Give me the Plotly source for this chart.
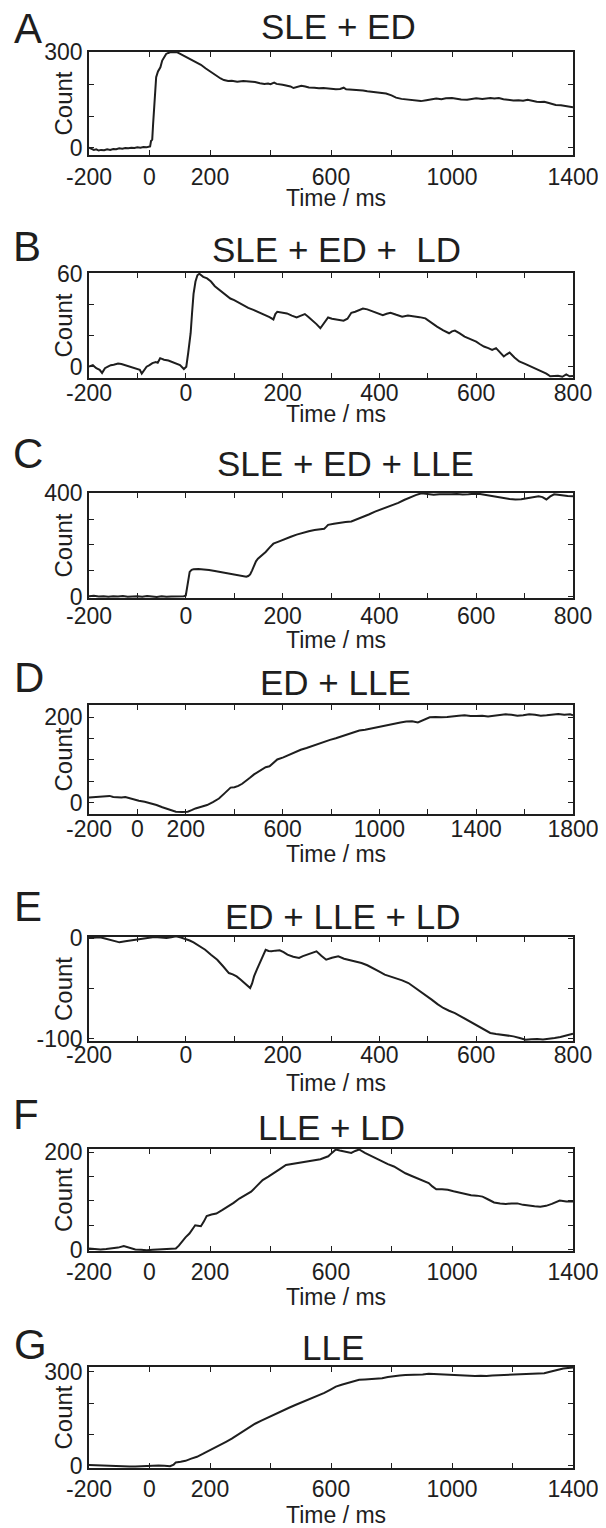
import plotly.graph_objects as go

# ---------------- data (time in ms, count) ----------------
SLE_ED = [(-200, 1), (-192, -2), (-184, -6), (-176, -4), (-168, -8), (-160, -6), (-150, -7), (-140, -4), (-130, -6),
          (-120, -3), (-110, -4), (-100, -1), (-90, -2), (-80, 0), (-70, -1), (-60, 1), (-50, 0), (-40, 2), (-30, 1),
          (-20, 3), (-10, 2), (-3, 4), (2, 5), (5, 22), (9, 26), (12, 76), (17, 149), (22, 222), (28, 240), (36, 253),
          (42, 274), (50, 286), (55, 295), (62, 298), (68, 300), (80, 301), (92, 300), (100, 296), (110, 291),
          (119, 285), (130, 280), (145, 274), (160, 266), (170, 261), (185, 250), (200, 240), (210, 232), (221, 225),
          (235, 218), (246, 213), (260, 210), (272, 211), (290, 208), (310, 210), (330, 209), (349, 207), (365, 203),
          (380, 201), (392, 202), (400, 200), (412, 205), (420, 201), (440, 198), (455, 196), (466, 193), (476, 188),
          (490, 192), (502, 195), (515, 193), (527, 190), (545, 189), (560, 187), (575, 188), (591, 186), (605, 185),
          (616, 184), (630, 185), (642, 189), (650, 184), (670, 183), (685, 181), (706, 180), (720, 178), (740, 176),
          (760, 173), (782, 171), (800, 165), (815, 158), (833, 154), (850, 152), (865, 150), (880, 148), (897, 147),
          (915, 150), (930, 153), (948, 155), (965, 153), (980, 156), (1000, 157), (1015, 154), (1030, 152),
          (1050, 151), (1065, 154), (1080, 156), (1100, 154), (1115, 156), (1127, 157), (1140, 155), (1155, 157),
          (1170, 153), (1185, 151), (1203, 149), (1220, 150), (1235, 148), (1250, 151), (1265, 147), (1280, 145),
          (1292, 144), (1305, 145), (1320, 141), (1343, 135), (1360, 134), (1375, 131), (1390, 129), (1400, 128)]

SLE_ED_LD = [(-200, 0), (-192, 1), (-185, -1), (-178, -2), (-173, -4), (-167, -1), (-161, 0), (-155, 1), (-149, 1.3),
             (-140, 2), (-133, 1.7), (-125, 1), (-117, 0), (-109, -0.5), (-101, -1), (-95, -2), (-91, -4.5), (-86, -2),
             (-81, 0), (-75, 1), (-69, 2.3), (-62, 3), (-58, 2.5), (-53, 5.5), (-45, 4.5), (-36, 4), (-28, 3),
             (-20, 2.3), (-12, 1), (-4, -1.5), (1, 0), (5, 9), (10, 21.6), (13, 35), (16, 47), (20, 55), (24, 59),
             (28, 60), (36, 58), (44, 57), (52, 55), (60, 52), (68, 50), (76, 48), (84, 46), (92, 44), (100, 43),
             (108, 41.5), (117, 40), (129, 38), (141, 36.5), (153, 35), (165, 33), (173, 32), (181, 30.5), (185, 34),
             (189, 35.5), (199, 35), (209, 34.4), (219, 33), (229, 31.8), (238, 33), (246, 34), (254, 32), (262, 30),
             (270, 27.5), (278, 24.8), (286, 28), (294, 31.8), (302, 31), (310, 30.5), (318, 30), (326, 29.7),
             (334, 31), (342, 34.8), (350, 35.5), (358, 36.5), (366, 37.5), (375, 37), (383, 36), (391, 34.8),
             (399, 34), (407, 33.3), (415, 34.2), (423, 34.8), (435, 33.5), (447, 32.3), (459, 33), (471, 32.7),
             (483, 32), (495, 31.2), (507, 28.5), (519, 25.9), (532, 23.5), (544, 21.6), (550, 22.8), (556, 23.3),
             (566, 21.5), (576, 19.4), (588, 17.8), (600, 16.2), (608, 14.5), (616, 13), (625, 12), (633, 10.9),
             (641, 12), (649, 9), (657, 6.6), (663, 8), (669, 9.2), (679, 6), (689, 3.4), (701, 1.8), (713, 0.2),
             (725, -1.5), (737, -3), (745, -4.5), (753, -6.2), (761, -6), (769, -5.8), (778, -6.5), (786, -5),
             (793, -6.2), (800, -6)]

SLE_ED_LLE = [(-200, 2), (-190, 4), (-180, 1), (-170, 2), (-160, 0), (-150, 2), (-140, 1), (-130, 3), (-120, 0),
              (-110, 1), (-100, 2), (-90, 0), (-80, 3), (-70, 1), (-60, -1), (-50, 2), (-40, 0), (-30, 1), (-20, 2),
              (-10, 1), (-4, 2), (0, 5), (4, 45), (8, 96), (12, 104), (16, 106), (26, 107), (36, 106), (48, 103),
              (60, 99), (72, 95), (85, 90), (97, 86), (109, 81), (118, 78), (125, 77), (129, 80), (133, 86), (137, 102),
              (141, 122), (145, 137), (149, 147), (157, 160), (165, 173), (173, 190), (181, 205), (193, 214),
              (205, 224), (217, 232), (229, 240), (241, 247), (254, 253), (266, 258), (276, 261), (286, 263),
              (290, 270), (294, 278), (306, 282), (318, 286), (330, 289), (342, 291), (354, 299), (366, 308),
              (378, 318), (391, 329), (403, 337), (415, 346), (427, 355), (439, 363), (451, 374), (463, 385),
              (475, 393), (487, 400), (500, 396), (512, 394), (524, 396), (536, 395), (548, 396), (560, 397),
              (572, 395), (584, 396), (596, 398), (608, 397), (620, 393), (633, 388), (645, 384), (657, 381),
              (669, 378), (681, 376), (693, 377), (705, 381), (717, 385), (729, 388), (737, 385), (745, 376),
              (753, 388), (761, 396), (769, 394), (778, 391), (789, 389), (800, 388)]

ED_LLE = [(-200, 11.6), (-180, 12.5), (-163, 13), (-140, 14), (-115, 15.5), (-100, 13), (-82, 11.6), (-66, 12),
          (-50, 13), (-34, 10), (-18, 7.8), (6, 4), (30, 1.6), (55, -2), (79, -6), (103, -11), (127, -15.5),
          (143, -19), (159, -21.7), (184, -22.5), (208, -21.7), (224, -18), (240, -14), (264, -10), (288, -6),
          (312, 1), (337, 9.3), (361, 22), (385, 35), (401, 36), (417, 39), (433, 44), (449, 50), (465, 58),
          (482, 66), (498, 72), (514, 79), (530, 83), (546, 85), (562, 93), (578, 101), (603, 106), (627, 112),
          (651, 118), (675, 124), (699, 128), (723, 133), (748, 138), (772, 143), (796, 147), (820, 151), (845, 156),
          (869, 161), (893, 165), (917, 169), (941, 171), (965, 174), (990, 177), (1014, 180), (1038, 183),
          (1062, 186), (1087, 188), (1111, 190), (1135, 191), (1159, 188), (1183, 193), (1208, 200), (1232, 201),
          (1256, 200), (1280, 201), (1304, 203), (1328, 204), (1352, 205), (1377, 203), (1401, 203), (1425, 204),
          (1449, 202), (1474, 204), (1498, 205), (1522, 207), (1546, 206), (1570, 204), (1594, 205), (1619, 207),
          (1643, 206), (1667, 204), (1691, 205), (1715, 207), (1739, 208), (1764, 206), (1788, 207), (1800, 205)]

ED_LLE_LD = [(-200, 0), (-188, 0.3), (-177, 0.7), (-167, -0.5), (-157, -1.7), (-147, -3), (-137, -4.3), (-125, -3.2),
             (-113, -2.3), (-101, -1.8), (-89, -1), (-77, 0), (-65, 1), (-52, 0.5), (-40, 0), (-30, 0.8), (-20, 1.7),
             (-10, 0.5), (0, -1), (8, -2.5), (16, -4.3), (28, -8), (40, -11.6), (52, -16.5), (65, -21.5), (77, -28),
             (89, -34.7), (97, -36), (105, -38), (113, -41), (121, -44.6), (127, -47), (133, -49.5), (137, -45),
             (141, -38), (147, -31), (153, -24.8), (159, -18), (165, -11.6), (171, -12.8), (177, -13.2), (185, -12.5),
             (194, -12.2), (202, -14), (210, -16.5), (222, -18.5), (234, -19.8), (242, -18), (250, -16.5), (260, -15),
             (270, -13.2), (280, -17.5), (290, -21.5), (302, -19.5), (315, -18.2), (327, -20.5), (339, -22),
             (351, -23.2), (363, -24.8), (375, -27), (387, -29.7), (399, -33), (411, -36.3), (423, -38), (435, -39.6),
             (447, -42), (460, -44.6), (472, -48.5), (484, -52.8), (496, -57), (508, -61), (520, -65.5), (532, -69.3),
             (544, -72), (556, -74.3), (568, -77.5), (581, -80.9), (593, -84), (605, -87.5), (617, -91), (629, -94),
             (641, -95), (653, -95.7), (665, -96.5), (677, -97.4), (690, -99), (702, -100.7), (714, -100.3),
             (726, -100), (738, -100.5), (750, -100), (762, -99), (774, -98), (787, -96.5), (800, -94.7)]

LLE_LD = [(-200, 2), (-181, 1), (-162, 0), (-143, 1), (-123, 2), (-104, 4), (-85, 7), (-66, 3), (-47, 0), (-28, -0.5),
          (-9, -1.4), (11, -0.5), (30, 0), (49, 1), (68, 2), (87, 2), (97, 8), (106, 16), (119, 25), (132, 33),
          (141, 42), (151, 50), (160, 49), (170, 48), (180, 58), (189, 69), (205, 72), (221, 74), (240, 81), (259, 88),
          (278, 96), (297, 105), (317, 112), (336, 119), (355, 131), (374, 143), (393, 150), (412, 157), (432, 166),
          (451, 174), (470, 176), (489, 178), (508, 179), (527, 181), (546, 183), (565, 186), (578, 189), (591, 192),
          (603, 199), (616, 206), (629, 204), (642, 202), (655, 200), (667, 199), (680, 203), (693, 206), (712, 199),
          (731, 193), (750, 187), (769, 181), (788, 176), (808, 171), (827, 164), (846, 157), (865, 152), (884, 147),
          (903, 142), (923, 137), (935, 130), (948, 124), (967, 124), (986, 123), (1005, 120), (1024, 117),
          (1044, 114), (1063, 112), (1082, 111), (1101, 109), (1120, 103), (1139, 97), (1159, 95), (1178, 94),
          (1197, 95), (1216, 95), (1235, 92), (1254, 90), (1273, 89), (1292, 88), (1311, 90), (1330, 94), (1343, 98),
          (1356, 101), (1378, 99), (1400, 99)]

LLE = [(-200, 2), (-181, 1), (-162, 0), (-143, 0), (-123, -1), (-104, -2), (-85, -4), (-66, -3), (-47, -3), (-28, -2),
       (-9, -2), (11, -1), (30, 0), (49, -1), (68, -2), (80, 3), (87, 10), (103, 12), (119, 15), (138, 22), (157, 28),
       (176, 37), (195, 46), (214, 55), (234, 65), (253, 76), (272, 86), (291, 98), (310, 110), (330, 122), (349, 134),
       (368, 143), (387, 152), (406, 161), (425, 170), (444, 178), (463, 186), (482, 194), (502, 202), (521, 210),
       (540, 217), (559, 225), (578, 233), (597, 243), (616, 253), (635, 259), (655, 264), (674, 270), (693, 275),
       (712, 276), (731, 277), (750, 278), (769, 280), (788, 284), (808, 287), (827, 289), (846, 290), (865, 290),
       (884, 290), (903, 292), (923, 294), (942, 293), (961, 293), (980, 291), (999, 290), (1018, 291), (1037, 290),
       (1056, 288), (1076, 287), (1095, 288), (1114, 287), (1133, 289), (1152, 290), (1171, 291), (1190, 290),
       (1209, 292), (1228, 294), (1247, 295), (1267, 296), (1286, 295), (1305, 296), (1324, 301), (1343, 306),
       (1356, 309), (1368, 311), (1384, 313), (1400, 314)]

letters = ["A", "B", "C", "D", "E", "F", "G"]
titles = ["SLE + ED", "SLE + ED +  LD", "SLE + ED + LLE", "ED + LLE", "ED + LLE + LD", "LLE + LD", "LLE"]
series = [SLE_ED, SLE_ED_LD, SLE_ED_LLE, ED_LLE, ED_LLE_LD, LLE_LD, LLE]

x_ranges = [(-200, 1400), (-200, 800), (-200, 800), (-200, 1800), (-200, 800), (-200, 1400), (-200, 1400)]
x_tick_step = [200, 100, 100, 200, 100, 200, 200]
x_tick_labels = [[-200, 0, 200, 600, 1000, 1400], [-200, 0, 200, 400, 600, 800], [-200, 0, 200, 400, 600, 800],
                 [-200, 0, 200, 600, 1000, 1400, 1800], [-200, 0, 200, 400, 600, 800],
                 [-200, 0, 200, 600, 1000, 1400], [-200, 0, 200, 600, 1000, 1400]]
y_ranges = [(-22, 301), (-7.3, 60.5), (-5, 401), (-27, 229), (-102, 1), (-3, 207), (-8, 316)]
y_ticks = [[0, 100, 200, 300], [0, 20, 40, 60], [0, 100, 200, 300, 400], [0, 50, 100, 150, 200],
           [-100, -50, 0], [0, 50, 100, 150, 200], [0, 100, 200, 300]]
y_tick_labels = [[0, 300], [0, 60], [0, 400], [0, 200], [-100, 0], [0, 200], [0, 300]]

# ---------------- layout geometry (page pixels) ----------------
PAGE_W, PAGE_H = 606, 1528
PAD = 8                      # browser's default body margin
W, H = PAGE_W - PAD, PAGE_H - PAD
X0, X1 = 89, 573
boxes = [(52, 155), (273, 378), (493, 598), (705, 814), (937, 1041), (1149, 1251), (1367, 1468)]
title_pos = [(338, 27), (336, 249), (345, 463), (335, 682), (342, 916), (331, 1127), (333, 1347)]
letter_pos = [(28, 28), (27, 247), (28, 453), (29, 677), (28, 906), (26, 1114), (30, 1344)]
xlabel_y = [198, 414, 640, 854, 1083, 1297, 1515]
xtick_standoff = [1, -6, -3, -6, -7, 0, 0]

FONT = "Liberation Sans, Arial, Helvetica, sans-serif"
INK = "#1e1e1e"


def px(x):
    return (x - PAD) / W


def py(y):
    return 1 - (y - PAD) / H


fig = go.Figure()
annotations = []
for i in range(7):
    n = i + 1
    xs = [p[0] for p in series[i]]
    ys = [p[1] for p in series[i]]
    xname = "x" if n == 1 else f"x{n}"
    yname = "y" if n == 1 else f"y{n}"
    fig.add_trace(go.Scatter(x=xs, y=ys, mode="lines", xaxis=xname, yaxis=yname,
                             line=dict(color=INK, width=2), showlegend=False, hoverinfo="skip"))
    lo, hi = x_ranges[i]
    xt = list(range(lo, hi + 1, x_tick_step[i]))
    xtt = [str(v) if v in x_tick_labels[i] else "" for v in xt]
    ytt = [str(v) if v in y_tick_labels[i] else "" for v in y_ticks[i]]
    top, bot = boxes[i]
    common = dict(showline=True, linewidth=1.6, linecolor=INK, mirror="ticks", ticks="inside",
                  ticklen=5, tickwidth=1.2, tickcolor=INK, showgrid=False, zeroline=False,
                  automargin=False, tickfont=dict(family=FONT, size=23, color=INK))
    fig.layout[("xaxis" if n == 1 else f"xaxis{n}")] = dict(
        common, domain=[px(X0), px(X1)], range=[lo, hi], anchor=yname,
        tickmode="array", tickvals=xt, ticktext=xtt, ticklabelstandoff=xtick_standoff[i])
    fig.layout[("yaxis" if n == 1 else f"yaxis{n}")] = dict(
        common, domain=[py(bot), py(top)], range=list(y_ranges[i]), anchor=xname,
        tickmode="array", tickvals=y_ticks[i], ticktext=ytt)

    annotations.append(dict(text=titles[i], x=px(title_pos[i][0]), y=py(title_pos[i][1]), xref="paper",
                            yref="paper", xanchor="center", yanchor="middle", showarrow=False,
                            font=dict(family=FONT, size=35, color=INK)))
    annotations.append(dict(text=letters[i], x=px(letter_pos[i][0]), y=py(letter_pos[i][1]), xref="paper",
                            yref="paper", xanchor="center", yanchor="middle", showarrow=False,
                            font=dict(family=FONT, size=42, color=INK)))
    annotations.append(dict(text="Time / ms", x=px(336), y=py(xlabel_y[i]), xref="paper", yref="paper",
                            xanchor="center", yanchor="middle", showarrow=False,
                            font=dict(family=FONT, size=23, color=INK)))
    annotations.append(dict(text="Count", x=px(63), y=py((top + bot) / 2), xref="paper", yref="paper",
                            xanchor="center", yanchor="middle", showarrow=False, textangle=-90,
                            font=dict(family=FONT, size=24, color=INK)))

fig.update_layout(width=W, height=H, margin=dict(l=0, r=0, t=0, b=0, autoexpand=False), paper_bgcolor="white",
                  plot_bgcolor="white", annotations=annotations, showlegend=False)

fig.write_html("out.html")
